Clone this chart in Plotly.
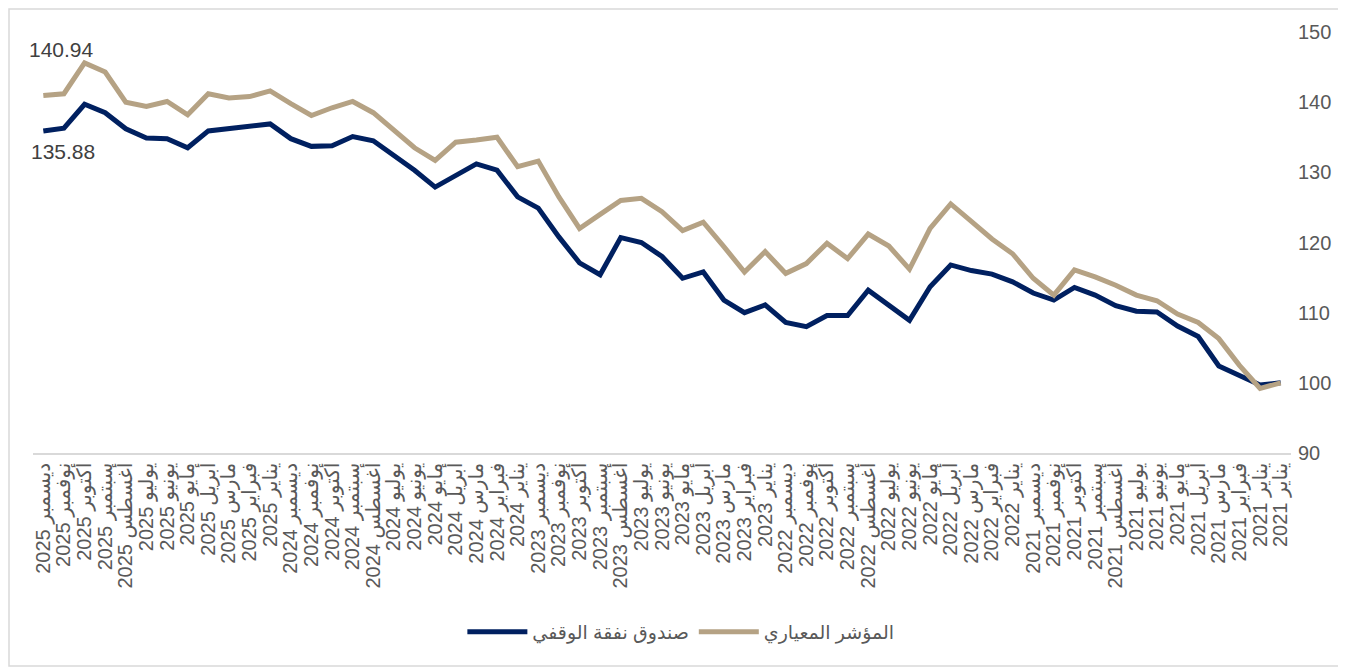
import plotly.graph_objects as go

months_ar = ["ديسمبر", "نوفمبر", "أكتوبر", "سبتمبر", "أغسطس", "يوليو",
             "يونيو", "مايو", "أبريل", "مارس", "فبراير", "يناير"]
years = [2025, 2024, 2023, 2022, 2021]

# categories from newest (left) to oldest (right); last one is the base point
categories = [f"{y} {m}" for y in years for m in months_ar] + ["2021 يناير"]

fund = [135.88, 136.3, 139.7, 138.5, 136.2, 134.9, 134.8, 133.5, 135.9, 136.2,
        136.6, 136.9, 134.8, 133.7, 133.8, 135.1, 134.5, 132.5, 130.3, 127.9,
        129.5, 131.2, 130.3, 126.5, 124.9, 120.8, 117.1, 115.4, 120.7, 120.0,
        118.0, 114.9, 115.8, 111.8, 110.0, 111.1, 108.6, 108.0, 109.6, 109.6,
        113.2, 111.0, 108.9, 113.7, 116.8, 116.0, 115.5, 114.4, 112.8, 111.8,
        113.6, 112.5, 111.0, 110.2, 110.1, 108.1, 106.6, 102.4, 101.1, 99.7,
        100.0]

benchmark = [140.94, 141.2, 145.6, 144.3, 140.0, 139.4, 140.1, 138.2, 141.2, 140.6,
             140.8, 141.6, 139.8, 138.1, 139.2, 140.1, 138.5, 136.0, 133.5, 131.7,
             134.3, 134.6, 135.0, 130.8, 131.6, 126.5, 122.0, 124.0, 126.0, 126.3,
             124.4, 121.7, 122.9, 119.4, 115.8, 118.7, 115.6, 117.0, 119.9, 117.7,
             121.2, 119.5, 116.2, 122.0, 125.5, 123.0, 120.5, 118.4, 114.9, 112.5,
             116.1, 115.1, 113.9, 112.5, 111.7, 109.8, 108.6, 106.3, 102.5, 99.2,
             100.0]

fund_name = "صندوق نفقة الوقفي"
bench_name = "المؤشر المعياري"
y_ticks = [90, 100, 110, 120, 130, 140, 150]

x_idx = list(range(len(categories)))

fig = go.Figure()
fig.add_trace(go.Scatter(
    x=x_idx, y=fund, mode="lines", name=fund_name,
    line=dict(color="#002060", width=5)))
fig.add_trace(go.Scatter(
    x=x_idx, y=benchmark, mode="lines", name=bench_name,
    line=dict(color="#B5A284", width=5)))

font_fam = "Liberation Sans, Arial, DejaVu Sans, sans-serif"

fig.add_annotation(x=0, y=benchmark[0], text=f"{benchmark[0]:.2f}",
                   showarrow=False, xanchor="center", yanchor="bottom",
                   xshift=18, yshift=33,
                   font=dict(size=21, color="#404040", family=font_fam))
fig.add_annotation(x=0, y=fund[0], text=f"{fund[0]:.2f}",
                   showarrow=False, xanchor="center", yanchor="top",
                   xshift=20, yshift=-7,
                   font=dict(size=21, color="#404040", family=font_fam))

# figure is drawn inside the page's 8px body margin
PW, PH = 1258, 421   # plot area size in px
L, T, B = 25, 24, 217
FW, FH = 1338, 662
fig.add_shape(type="rect", xref="paper", yref="paper",
              x0=(-L + 1) / PW, x1=(FW - L - 6) / PW,
              y0=(-B + 4) / PH, y1=1 + (T - 1) / PH,
              line=dict(color="#D9D9D9", width=1.5), layer="below")

fig.update_layout(
    width=FW, height=FH,
    margin=dict(l=L, r=FW - L - PW, t=T, b=B, autoexpand=False),
    paper_bgcolor="white", plot_bgcolor="white",
    font=dict(family=font_fam, color="#595959", size=18),
    showlegend=True,
    legend=dict(orientation="h", x=0.515, xanchor="center", y=-0.38, yanchor="top",
                font=dict(size=19, color="#595959"), itemwidth=60,
                traceorder="normal"),
    xaxis=dict(
        tickmode="array", tickvals=x_idx, ticktext=categories,
        range=[-0.5, len(categories) - 0.5],
        tickangle=-90, showgrid=False, zeroline=False,
        showline=True, linecolor="#D9D9D9", linewidth=1.5,
        ticks="", tickfont=dict(size=20, color="#595959"), automargin=False),
    yaxis=dict(
        side="right", range=[90, 150], tickvals=y_ticks,
        showgrid=False, zeroline=False, showline=False, ticks="",
        tickfont=dict(size=20, color="#595959"), ticklabelstandoff=6,
        automargin=False),
)

fig.write_html("out.html")
